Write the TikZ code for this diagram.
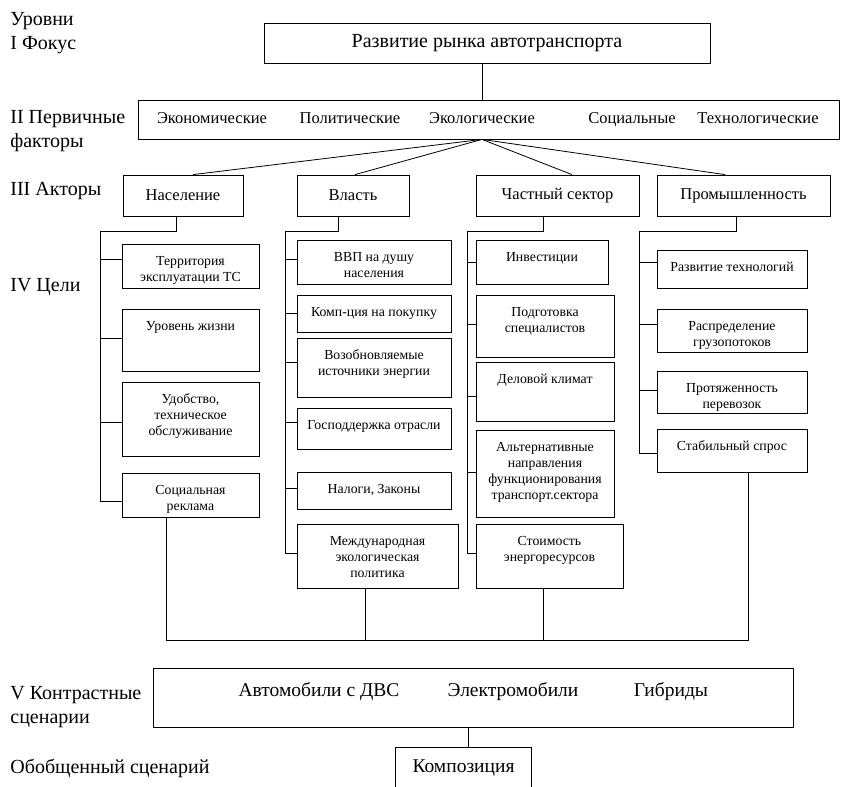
\documentclass[tikz,border=0pt]{standalone}
\usepackage{fontspec}
\setmainfont{Liberation Serif}
\usetikzlibrary{positioning}

\begin{document}
\begin{tikzpicture}[x=1pt, y=-1pt, line width=0.8pt,
  lvl/.style={anchor=west, align=left, inner sep=0pt, font=\fontsize{20}{23.5}\selectfont},
  bar/.style={rectangle, draw, inner sep=0pt},
  act/.style={rectangle, draw, minimum height=41, font=\fontsize{16.5}{19}\selectfont},
  goal/.style={rectangle, draw, inner sep=0pt},
  gtxt/.style={align=center, inner sep=0pt, font=\fontsize{13.8}{16}\selectfont},
  ftxt/.style={anchor=base, inner sep=0pt, font=\fontsize{16.5}{19}\selectfont},
  stxt/.style={anchor=base, inner sep=0pt, font=\fontsize{19.5}{22}\selectfont}]
  \useasboundingbox (0,0) rectangle (841,787);
  % levels
  \node[lvl] (l1) at (10,33) {Уровни\\I Фокус};
  \node[lvl] (l2) at (10,131) {II Первичные\\факторы};
  \node[lvl] (l3) at (10,191) {III Акторы};
  \node[lvl] (l4) at (10,287) {IV Цели};
  \node[lvl] (l5) at (10,707) {V Контрастные\\сценарии};
  \node[lvl] (l6) at (10,768) {Обобщенный сценарий};
  % focus and factors
  \node[bar, minimum width=446, minimum height=40, font=\fontsize{20}{24}\selectfont] (focus) at (487,43) {Развитие рынка автотранспорта};
  \node[bar, minimum width=701, minimum height=39] (fac) at (488.5,119.5) {};
  \foreach \x/\txt [count=\i] in {212/Экономические, 350/Политические, 482/Экологические, 632/Социальные, 758/Технологические}
    \node[ftxt] (f\i) at (\x,123) {\txt};
  \draw (f3 |- focus.south) -- (f3 |- fac.north);
  % actors
  \foreach \n/\x/\w/\txt in {nas/183/120/Население, vl/353/112/Власть, chs/557.5/163/Частный сектор, prom/743.5/173/Промышленность}
    \node[act, minimum width=\w] (\n) at (\x,195.5) {\txt};
  \foreach \n/\d in {nas/10, vl/2, chs/14.5, prom/-18.5}
    \draw (f3 |- fac.south) -- ([xshift=\d]\n.north);
  % goals
  \foreach \n/\x/\y/\w/\h/\txt in {
      n1/190.5/266/137/44/{Территория\\эксплуатации ТС},
      n2/190.5/340/137/62/{Уровень жизни},
      n3/190.5/419/137/74/{Удобство,\\техническое\\обслуживание},
      n4/190.5/495/137/44/{Социальная\\реклама},
      v1/374/262/154/44/{ВВП на душу\\населения},
      v2/374/313.5/154/37/{Комп-ция на покупку},
      v3/374/367.5/154/59/{Возобновляемые\\источники энергии},
      v4/374/428.5/154/41/{Господдержка отрасли},
      v5/374/490.5/154/37/{Налоги, Законы},
      v6/377.5/556/161/64/{Международная\\экологическая\\политика},
      c1/542/262/132/44/{Инвестиции},
      c2/545/326/138/62/{Подготовка\\специалистов},
      c3/545/391.5/138/59/{Деловой климат},
      c4/545/473.5/138/87/{Альтернативные\\направления\\функционирования\\транспорт.сектора},
      c5/549.5/556/147/64/{Стоимость\\энергоресурсов},
      p1/732/269/150/38/{Развитие технологий},
      p2/732/330.5/150/43/{Распределение\\грузопотоков},
      p3/732/392/150/42/{Протяженность\\перевозок},
      p4/732/450.5/150/43/{Стабильный спрос}}
  {
    \node[goal, minimum width=\w, minimum height=\h] (\n) at (\x,\y) {};
    \node[gtxt, below=12pt of \n.north] (\n t) {\txt};
  }
  % spines and ticks
  \draw ([xshift=-7]nas.south) |- ++(-76,15) |- ([yshift=-6]n4.west);
  \draw ([xshift=-15]vl.south) |- ++(-53,15) |- ([yshift=3]v6.west);
  \draw ([xshift=-14.5]chs.south) |- ++(-76,15) |- ([yshift=3]c5.west);
  \draw ([xshift=-7.5]prom.south) |- ++(-97,15) |- ([yshift=-3]p4.west);
  \foreach \g/\d in {n1/7, n2/2, n3/-3}
    \draw ([yshift=\d]\g.west) -- ++(-22,0);
  \foreach \g/\d in {v1/3, v2/0, v3/5, v4/6, v5/2}
    \draw ([yshift=\d]\g.west) -- ++(-12,0);
  \foreach \g/\d in {c1/0, c2/2, c3/-5, c4/1}
    \draw ([yshift=\d]\g.west) -- ++(-9,0);
  \foreach \g/\d in {p1/7, p2/6, p3/2}
    \draw ([yshift=\d]\g.west) -- ++(-18,0);
  % collecting line
  \draw ([xshift=-24.5]n4.south) -- ++(0,123) -| ([xshift=16]p4.south);
  \draw ([xshift=-12.5]v6.south) -- ++(0,52);
  \draw ([xshift=-6.5]c5.south) -- ++(0,52);
  % scenarios
  \node[bar, minimum width=640, minimum height=59] (scen) at (473,697.5) {};
  \foreach \x/\txt [count=\i] in {319/Автомобили с ДВС, 513/Электромобили, 671/Гибриды}
    \node[stxt] (s\i) at (\x,696) {\txt};
  \node[stxt, anchor=north, minimum width=135, text height=25, text depth=15, inner ysep=0pt] (komp) at (463.5,747) {Композиция};
  \draw (komp.south west) |- (komp.north east) -- (komp.south east);
  \draw ([xshift=-5]scen.south) -- ([xshift=-5]scen.south |- komp.north);
\end{tikzpicture}
\end{document}
